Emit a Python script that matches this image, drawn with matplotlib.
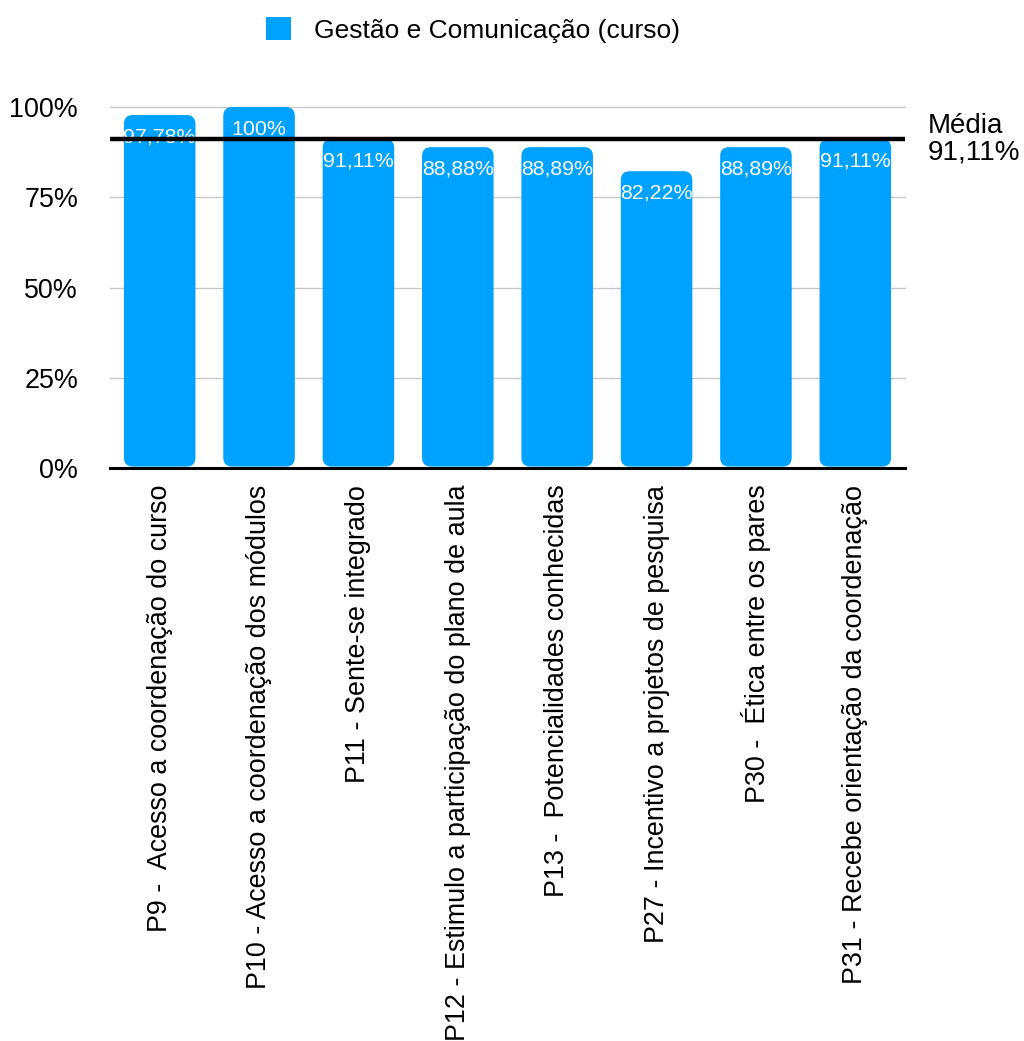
import matplotlib
matplotlib.use("Agg")
import matplotlib.pyplot as plt
from matplotlib.patches import FancyBboxPatch, Patch
from matplotlib.transforms import blended_transform_factory

plt.rcParams["font.family"] = ["Liberation Sans", "DejaVu Sans"]

categories = [
    "P9 -  Acesso a coordenação do curso",
    "P10 - Acesso a coordenação dos módulos",
    "P11 - Sente-se integrado",
    "P12 - Estimulo a participação do plano de aula",
    "P13 -  Potencialidades conhecidas",
    "P27 - Incentivo a projetos de pesquisa",
    "P30 -  Ética entre os pares",
    "P31 - Recebe orientação da coordenação",
]
values = [97.78, 100.0, 91.11, 88.88, 88.89, 82.22, 88.89, 91.11]
value_labels = ["97,78%", "100%", "91,11%", "88,88%", "88,89%", "82,22%", "88,89%", "91,11%"]
mean_value = 91.11
mean_label = "Média\n91,11%"
series_name = "Gestão e Comunicação (curso)"
y_ticks = [0, 25, 50, 75, 100]
y_tick_labels = ["0%", "25%", "50%", "75%", "100%"]

bar_color = "#00A2FF"

fig = plt.figure(figsize=(10.24, 10.41), dpi=100)
ax = fig.add_axes([0.1074, 0.5504, 0.7764, 0.3468])

x = list(range(len(categories)))
bars = ax.bar(x, values, width=0.72, color=bar_color, zorder=2)

# Replace the plain rectangles with rounded ones
for rect in bars.patches:
    bx, by = rect.get_x(), rect.get_y()
    bw, bh = rect.get_width(), rect.get_height()
    rect.set_visible(False)
    rounded = FancyBboxPatch(
        (bx, by + 0.4), bw, bh - 0.4,
        boxstyle="round,pad=0,rounding_size=0.09",
        mutation_aspect=27.5,
        facecolor=bar_color, edgecolor="none", zorder=2,
    )
    ax.add_patch(rounded)

for xi, v, lab in zip(x, values, value_labels):
    ax.text(xi, v - 6.1, lab, ha="center", va="center", color="white",
            fontsize=15.4, zorder=3)

ax.set_xlim(-0.5, len(categories) - 0.5)
ax.set_ylim(0, 100)

for t in y_ticks[1:]:
    ax.axhline(t, color="#C8C8C8", linewidth=1.0, zorder=1, clip_on=False)
ax.axhline(0, color="black", linewidth=2.2, zorder=4, clip_on=False)
ax.axhline(mean_value, color="black", linewidth=3.2, zorder=5)

trans = blended_transform_factory(ax.transAxes, ax.transData)
ax.text(1.029, mean_value, mean_label, transform=trans, ha="left", va="center",
        fontsize=20, linespacing=1.05, color="black")

ax.set_yticks(y_ticks)
ax.set_yticklabels(y_tick_labels, fontsize=19.4)
ax.set_xticks(x)
ax.set_xticklabels(categories, rotation=90, ha="center", va="top", fontsize=19.4)
ax.tick_params(axis="both", length=0)
ax.tick_params(axis="y", pad=23)
ax.tick_params(axis="x", pad=12)
for s in ax.spines.values():
    s.set_visible(False)

ax.legend(handles=[Patch(facecolor=bar_color, edgecolor="none", label=series_name)],
          loc="center", bbox_to_anchor=(0.462, 0.971), bbox_transform=fig.transFigure,
          frameon=False, fontsize=19, handlelength=0.95, handleheight=0.95,
          handletextpad=0.9)

fig.savefig("out.png", dpi=100)
